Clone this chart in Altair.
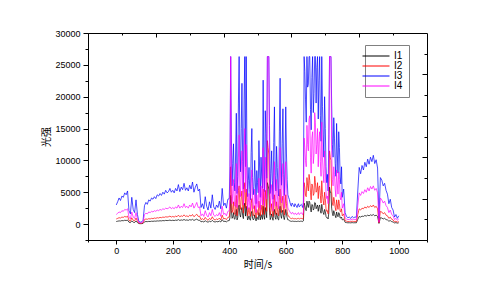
import altair as alt
import pandas as pd

# time stamps (s): coarse grid over the whole run, extra half-step samples over the burst section
T = list(range(0, 1001, 5))
T_MID = [x + 2.5 for x in range(400, 800, 5)]

I1 = [400, 450, 500, 480, 550, 520, 600, 560, 620, 300,
      230, 500, 300, 250, 480, 230, 80, 60, 70, 100,
      350, 400, 380, 420, 400, 450, 430, 470, 450, 500,
      480, 520, 500, 550, 520, 580, 550, 570, 620, 550,
      600, 550, 620, 580, 700, 570, 650, 600, 720, 600,
      650, 580, 700, 620, 750, 570, 680, 780, 600, 620,
      350, 420, 330, 520, 380, 300, 450, 350, 580, 380,
      330, 400, 350, 480, 330, 700, 400, 450, 350, 520,
      550, 4500, 900, 1800, 750, 2300, 1000, 3000, 1100, 2600,
      850, 3300, 2800, 650, 1300, 600, 2000, 650, 1450, 500,
      950, 1800, 650, 1100, 2800, 750, 1900, 6500, 5500, 700,
      1600, 600, 2300, 750, 1300, 650, 2800, 900, 2200, 700,
      2300, 1000, 650, 500, 420, 450, 400, 420, 400, 450,
      420, 450, 400, 3300, 2300, 3600, 2600, 3400, 1900, 3000,
      2400, 3300, 2700, 2000, 3000, 1700, 2300, 1500, 2000, 1000,
      800, 5800, 5000, 1700, 2100, 1300, 1900, 1150, 1600, 950,
      650, 800, 280, 230, 200, 210, 190, 230, 200, 210,
      200, 750, 1200, 1100, 1250, 1200, 1350, 1250, 1400, 1300,
      1450, 1350, 1500, 1300, 1400, 1200, 100, 1000, 950, 800,
      900, 700, 650, 450, 550, 380, 330, 180, 230, 150,
      200]
I1_MID = [1000, 2100, 1100, 850, 1500, 650, 2600, 1500, 2100, 1300,
          2700, 1250, 1700, 900, 750, 1600, 950, 800, 900, 1150,
          700, 1250, 1500, 750, 1300, 2600, 1000, 6000, 2200, 1050,
          950, 1850, 1050, 1750, 750, 2100, 1350, 1800, 1050, 1350,
          1600, 650, 550, 450, 470, 430, 450, 400, 450, 400,
          450, 430, 500, 2900, 2100, 3000, 3600, 2500, 3100, 2200,
          3400, 2400, 3000, 2700, 2100, 3100, 1800, 2300, 1200, 1000,
          1800, 5000, 2500, 1300, 1700, 1000, 1400, 1800, 950, 1100]

I2 = [800, 900, 1000, 950, 1100, 1050, 1200, 1100, 1250, 600,
      450, 1000, 600, 500, 950, 450, 150, 120, 130, 200,
      700, 800, 750, 850, 800, 900, 850, 950, 900, 1000,
      950, 1050, 1000, 1100, 1050, 1150, 1100, 1150, 1250, 1100,
      1200, 1100, 1250, 1150, 1400, 1150, 1300, 1200, 1450, 1200,
      1300, 1150, 1400, 1250, 1500, 1150, 1350, 1550, 1200, 1250,
      700, 850, 650, 1050, 750, 600, 900, 700, 1150, 750,
      650, 800, 700, 950, 650, 1400, 800, 900, 700, 1050,
      1100, 9000, 1800, 3500, 1500, 4500, 2100, 6000, 2300, 5200,
      1700, 6500, 5500, 1300, 2600, 1200, 4000, 1300, 2900, 1000,
      1900, 3600, 1300, 2200, 5500, 1500, 3800, 13100, 11000, 1400,
      3200, 1200, 4600, 1500, 2600, 1300, 5500, 1800, 4400, 1400,
      4600, 2000, 1300, 1000, 850, 900, 800, 850, 800, 900,
      850, 900, 800, 6500, 4500, 7300, 5200, 6800, 3800, 6000,
      4800, 6500, 5300, 4000, 6000, 3300, 4600, 3000, 4000, 2000,
      1600, 11500, 10000, 3300, 4200, 2600, 3800, 2300, 3200, 1900,
      1300, 1600, 550, 450, 400, 420, 380, 450, 400, 420,
      400, 1500, 2400, 2200, 2500, 2400, 2700, 2500, 2800, 2600,
      2900, 2700, 3000, 2600, 2800, 2400, 200, 2000, 1900, 1600,
      1800, 1400, 1300, 900, 1100, 750, 650, 350, 450, 300,
      400]
I2_MID = [2000, 4300, 2300, 1700, 3100, 1300, 5300, 3000, 4300, 2600,
          5400, 2500, 3500, 1800, 1500, 3200, 1900, 1600, 1800, 2300,
          1400, 2500, 3000, 1500, 2600, 5300, 2000, 12000, 4500, 2100,
          1900, 3700, 2100, 3500, 1500, 4200, 2700, 3600, 2100, 2700,
          3200, 1300, 1100, 900, 950, 850, 900, 800, 900, 800,
          900, 850, 1000, 5800, 4300, 6000, 7800, 5000, 6300, 4500,
          7500, 5000, 6500, 5800, 4500, 6800, 3700, 5000, 2400, 2100,
          3800, 10500, 5200, 2900, 3600, 2100, 3000, 3800, 2000, 2400]

I3 = [3000, 3500, 4100, 3700, 4400, 4200, 4900, 4600, 5200, 2100,
      1600, 4200, 2300, 1800, 3800, 1500, 400, 300, 350, 600,
      2900, 3400, 3100, 3800, 3600, 4100, 3900, 4300, 4000, 4600,
      4400, 4800, 4500, 5000, 4700, 5300, 4900, 5100, 5600, 5000,
      5300, 4900, 5600, 5200, 6200, 5100, 5800, 5400, 6400, 5300,
      5700, 5200, 6100, 5500, 6600, 5000, 5800, 6300, 5200, 5500,
      2600, 3200, 2400, 4300, 2800, 2200, 3500, 2500, 4600, 2700,
      2300, 3000, 2600, 3600, 2400, 5600, 2900, 3300, 2500, 3900,
      4000, 26300, 6000, 12600, 5200, 17400, 7500, 26300, 8200, 22100,
      5500, 26300, 26300, 4300, 8900, 3800, 15000, 4600, 10000, 3200,
      6500, 13100, 4200, 7400, 22600, 5100, 14200, 26300, 26300, 4800,
      11500, 3900, 18400, 5200, 8900, 4400, 22900, 6100, 18100, 4500,
      18400, 7000, 4200, 3400, 2800, 3100, 2700, 3000, 2600, 3200,
      2800, 3100, 2600, 26300, 19500, 26300, 22000, 26300, 14800, 26300,
      20500, 26300, 24600, 16500, 26300, 13000, 18500, 10500, 15000, 6500,
      5200, 26300, 26300, 12500, 16700, 9500, 15800, 8000, 12000, 6300,
      4200, 5500, 1800, 1200, 1000, 1100, 900, 1200, 1000, 1100,
      1100, 5200, 8900, 7900, 9200, 8500, 9700, 9000, 10200, 9400,
      10500, 9800, 10800, 9500, 10100, 8800, 900, 7300, 6900, 6000,
      6400, 5300, 4700, 3200, 3900, 2600, 2200, 1100, 1500, 900,
      1300]
I3_MID = [9000, 14000, 9500, 6500, 11000, 4800, 19000, 11500, 15000, 9800,
          19500, 9000, 12500, 6800, 5400, 11200, 7300, 5900, 6600, 8400,
          4900, 8800, 10500, 5600, 9300, 17800, 7200, 26300, 15500, 7900,
          6800, 12800, 7600, 12200, 5600, 14600, 9700, 12700, 7800, 9600,
          11000, 4600, 3900, 3000, 3300, 2900, 3200, 2800, 3000, 2700,
          3000, 2900, 3400, 24000, 16000, 21500, 26300, 18000, 23000, 17500,
          26300, 19000, 26300, 22500, 17000, 26300, 14000, 20000, 9000, 7800,
          14000, 26300, 19000, 10500, 13500, 7500, 11000, 14500, 7400, 9000]

I4 = [1500, 1700, 1900, 1800, 2100, 2000, 2300, 2200, 2400, 1100,
      800, 1900, 1100, 900, 1800, 800, 250, 200, 220, 350,
      1500, 1700, 1600, 1900, 1800, 2000, 1900, 2100, 2000, 2200,
      2100, 2300, 2200, 2400, 2300, 2500, 2400, 2500, 2700, 2400,
      2600, 2400, 2700, 2500, 3000, 2500, 2800, 2600, 3200, 2600,
      2800, 2500, 3000, 2700, 3300, 2500, 2900, 3400, 2600, 2700,
      1300, 1600, 1200, 2100, 1400, 1100, 1800, 1300, 2300, 1400,
      1200, 1500, 1300, 1800, 1200, 2800, 1500, 1700, 1300, 2000,
      2100, 26300, 3200, 7000, 2800, 9500, 4000, 14000, 4300, 11500,
      3000, 15000, 12500, 2300, 4800, 2100, 8500, 2400, 5500, 1800,
      3500, 7200, 2300, 4000, 12000, 2800, 7800, 26300, 26300, 2600,
      6200, 2100, 9800, 2800, 4800, 2400, 12000, 3300, 9500, 2500,
      9800, 3800, 2300, 1900, 1600, 1800, 1500, 1700, 1500, 1800,
      1600, 1800, 1500, 13500, 10000, 15500, 11500, 17000, 8000, 14500,
      11000, 16000, 12500, 9000, 14500, 7500, 10500, 6500, 9000, 4000,
      3200, 26300, 26300, 7000, 9000, 5500, 8500, 4700, 7000, 3800,
      2500, 3200, 1000, 800, 700, 750, 650, 800, 700, 750,
      700, 2900, 4900, 4500, 5100, 4800, 5400, 5000, 5700, 5200,
      5900, 5500, 6000, 5300, 5600, 4900, 300, 4100, 3800, 3300,
      3600, 2900, 2600, 1800, 2200, 1500, 1300, 700, 900, 600,
      800]
I4_MID = [4200, 8500, 4800, 3600, 6200, 2600, 10500, 6000, 8800, 5200,
          11000, 5000, 7000, 3400, 2900, 6400, 3800, 3100, 3500, 4600,
          2600, 5000, 6000, 3000, 5200, 10500, 3900, 26300, 9000, 4200,
          3700, 7400, 4100, 7000, 3000, 8500, 5300, 7300, 4200, 5300,
          6300, 2500, 2100, 1700, 1800, 1600, 1700, 1500, 1700, 1500,
          1700, 1600, 1900, 12000, 9000, 12500, 16500, 10500, 13500, 9500,
          17500, 11000, 15000, 13000, 9800, 16000, 8000, 11500, 5000, 4400,
          8000, 26300, 11500, 6000, 7800, 4300, 6300, 8200, 4200, 5000]

SERIES = ["I1", "I2", "I3", "I4"]
COLORS = ["#000000", "#ff0000", "#0000ff", "#ff00ff"]

X_TICKS = list(range(-100, 1101, 100))
Y_TICKS = list(range(-2500, 30001, 2500))

rows = []
for name, vals, mids in zip(SERIES, [I1, I2, I3, I4], [I1_MID, I2_MID, I3_MID, I4_MID]):
    for t, v in zip(T, vals):
        rows.append({"t": t, "v": v, "series": name})
    for t, v in zip(T_MID, mids):
        rows.append({"t": t, "v": v, "series": name})
df = pd.DataFrame(rows).sort_values(["series", "t"]).reset_index(drop=True)

lines = alt.Chart(df).mark_line(strokeWidth=0.7).encode(
    x=alt.X("t:Q",
            scale=alt.Scale(domain=[-100, 1100], nice=False, zero=False),
            axis=alt.Axis(title="时间/s", values=X_TICKS, format="d",
                          labelExpr="datum.value % 200 === 0 ? datum.label : ''",
                          tickSize={"condition": {"test": "datum.value % 200 === 0", "value": 4}, "value": 2},
                          labelPadding=2, titlePadding=4, labelFlush=False,
                          labelOverlap=False)),
    y=alt.Y("v:Q",
            scale=alt.Scale(domain=[-2500, 30000], nice=False, zero=False),
            axis=alt.Axis(title="光强", values=Y_TICKS, format="d",
                          labelExpr="datum.value % 5000 === 0 ? datum.label : ''",
                          tickSize={"condition": {"test": "datum.value % 5000 === 0", "value": 5}, "value": 3},
                          labelPadding=3, titlePadding=3, labelFlush=False,
                          labelOverlap=False)),
    color=alt.Color("series:N",
                    scale=alt.Scale(domain=SERIES, range=COLORS),
                    legend=alt.Legend(orient="none", legendX=277, legendY=12,
                                      title=None, symbolType="M-3,0H3",
                                      symbolSize=81, symbolStrokeWidth=1,
                                      labelFont="Liberation Sans",
                                      labelFontSize=10, labelColor="black",
                                      labelOffset=13, padding=6, rowPadding=0,
                                      strokeColor="#808080", fillColor="white")),
)

dummy = alt.Data(values=[{"a": 0}])


def top_layer(vals, size):
    return alt.Chart(dummy).mark_point(opacity=0).encode(
        x=alt.X("a:Q", scale=alt.Scale(domain=[0, 10], nice=False, zero=False),
                axis=alt.Axis(orient="top", values=vals, labels=False, domain=False,
                              tickSize=size, offset=-size, title=None)))


def right_layer(vals, size):
    return alt.Chart(dummy).mark_point(opacity=0).encode(
        y=alt.Y("a:Q", scale=alt.Scale(domain=[0, 10], nice=False, zero=False),
                axis=alt.Axis(orient="right", values=vals, labels=False, domain=False,
                              tickSize=size, offset=-size, title=None)))


chart = alt.layer(
    lines,
    top_layer([2, 4, 6, 8], 4),
    top_layer([1, 3, 5, 7, 9], 2),
    right_layer([2, 4, 6, 8], 5),
    right_layer([1, 3, 5, 7, 9], 3),
).resolve_scale(x="independent", y="independent").properties(
    width=339, height=207,
    autosize=alt.AutoSizeParams(type="none"),
    padding={"left": 88, "top": 33, "right": 69, "bottom": 48},
    background="white",
).configure_axis(
    labelFont="Liberation Sans", labelFontSize=9, labelColor="black",
    tickColor="black", domainColor="black", tickWidth=1,
    titleFont="Noto Sans CJK SC", titleFontSize=10, titleFontWeight="normal",
    titleColor="black", grid=False,
).configure_view(stroke="black", strokeWidth=1)

chart.save("out.html", embed_options={"renderer": "svg", "actions": False})
